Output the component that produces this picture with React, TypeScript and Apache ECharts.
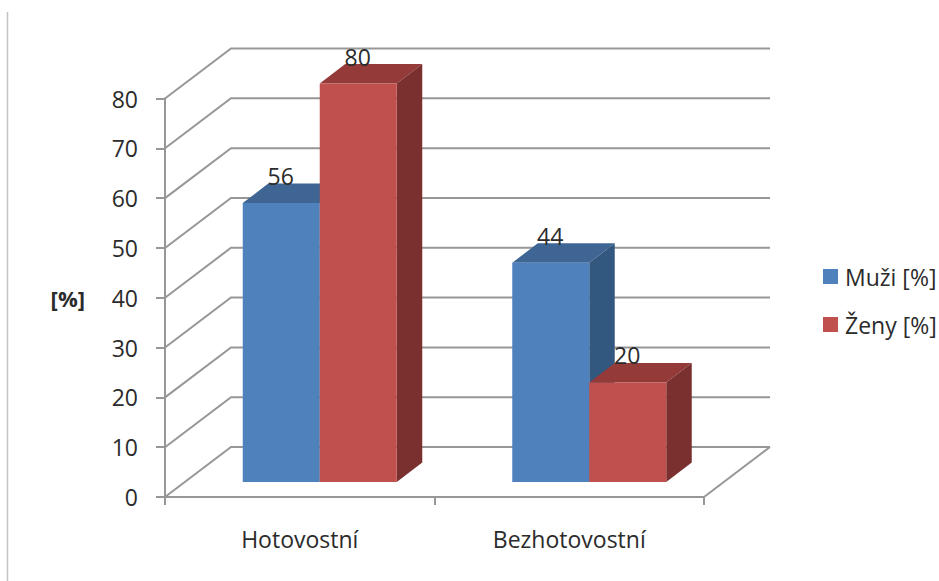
import React, { useEffect, useRef } from "react";
import * as echarts from "echarts";

const categories = ["Hotovostní", "Bezhotovostní"];
const muzi = [56, 44];
const zeny = [80, 20];
const gridValues = [0, 10, 20, 30, 40, 50, 60, 70, 80];

const FONT = "'Open Sans', sans-serif";
const TEXT = "#2b2b2b";
const GRID = "#979797";
const WALL_DX = 66;
const WALL_DY = -50;
const BAR_WIDTH_RATIO = 77 / 269.5;
const BAR_SHIFT_X = 20;
const BAR_SHIFT_Y = -15;
const BAR_DEPTH_X = 25.5;
const BAR_DEPTH_Y = -19.5;

function barSeries(name: string, values: number[], slot: number, front: string, top: string, side: string) {
  return {
    name,
    type: "custom",
    coordinateSystem: "cartesian2d",
    clip: false,
    z: 5 + slot,
    itemStyle: { color: front },
    encode: { x: 0, y: 1 },
    data: values.map((v, i) => [i, v]),
    renderItem: (_p: any, api: any) => {
      const i = api.value(0);
      const v = api.value(1);
      const band = api.size([1, 0])[0];
      const w = band * BAR_WIDTH_RATIO;
      const c = api.coord([i, v]);
      const b = api.coord([i, 0]);
      const x0 = c[0] - w + slot * w + BAR_SHIFT_X;
      const x1 = x0 + w;
      const yT = c[1] + BAR_SHIFT_Y;
      const yB = b[1] + BAR_SHIFT_Y;
      const dx = BAR_DEPTH_X;
      const dy = BAR_DEPTH_Y;
      return {
        type: "group",
        children: [
          { type: "polygon", shape: { points: [[x0, yT], [x1, yT], [x1 + dx, yT + dy], [x0 + dx, yT + dy]] }, style: { fill: top } },
          { type: "polygon", shape: { points: [[x1, yT], [x1 + dx, yT + dy], [x1 + dx, yB + dy], [x1, yB]] }, style: { fill: side } },
          { type: "rect", shape: { x: x0, y: yT, width: w, height: yB - yT }, style: { fill: front } },
        ],
      };
    },
  };
}

function labelSeries(values: number[], slot: number) {
  return {
    type: "custom",
    coordinateSystem: "cartesian2d",
    clip: false,
    silent: true,
    z: 20,
    encode: { x: 0, y: 1 },
    data: values.map((v, i) => [i, v]),
    renderItem: (_p: any, api: any) => {
      const i = api.value(0);
      const v = api.value(1);
      const band = api.size([1, 0])[0];
      const w = band * BAR_WIDTH_RATIO;
      const c = api.coord([i, v]);
      return {
        type: "text",
        x: c[0] - w + slot * w + BAR_SHIFT_X + w / 2 - 0.5,
        y: c[1] + BAR_SHIFT_Y - 27,
        style: { text: String(v), fill: TEXT, font: `23px ${FONT}`, textAlign: "center", textVerticalAlign: "middle" },
      };
    },
  };
}

export default function App() {
  const ref = useRef<HTMLDivElement>(null);
  useEffect(() => {
    const chart = echarts.init(ref.current!, undefined, { renderer: "svg" });
    chart.setOption({
      animation: false,
      backgroundColor: "#ffffff",
      textStyle: { fontFamily: FONT },
      grid: { left: 165, top: 98.5, width: 539, height: 398.5, containLabel: false },
      legend: {
        data: ["Muži [%]", "Ženy [%]"],
        orient: "vertical",
        left: 823,
        top: 265,
        itemWidth: 15,
        itemHeight: 15,
        itemGap: 25,
        icon: "rect",
        textStyle: { color: TEXT, fontSize: 23, fontFamily: FONT, padding: [0, 0, 0, 2] },
        padding: 0,
      },
      xAxis: {
        type: "category",
        data: categories,
        axisLine: { lineStyle: { color: GRID, width: 2 } },
        axisTick: { show: true, length: 8, lineStyle: { color: GRID, width: 2 } },
        axisLabel: { color: TEXT, fontSize: 23, margin: 30, fontFamily: FONT },
        splitLine: { show: false },
      },
      yAxis: {
        type: "value",
        min: 0,
        max: 80,
        interval: 10,
        name: "[%]",
        nameLocation: "middle",
        nameRotate: 0,
        nameGap: 80,
        nameTextStyle: { color: TEXT, fontSize: 22, fontWeight: "bold", fontFamily: FONT },
        axisLine: { show: true, lineStyle: { color: GRID, width: 2 } },
        axisTick: { show: true, length: 9, lineStyle: { color: GRID, width: 2 } },
        axisLabel: { color: TEXT, fontSize: 23, margin: 27, fontFamily: FONT },
        splitLine: { show: false },
      },
      series: [
        {
          type: "custom",
          coordinateSystem: "cartesian2d",
          clip: false,
          silent: true,
          z: 1,
          encode: { y: 0 },
          data: gridValues.map((v) => [v]),
          renderItem: (_p: any, api: any) => {
            const v = api.value(0);
            const left = api.coord([0, v]);
            const band = api.size([1, 0])[0];
            const x0 = left[0] - band / 2;
            const x1 = left[0] + band * 1.5;
            const y = left[1];
            const line = { stroke: GRID, lineWidth: 2, fill: "none" };
            const children: any[] = [
              { type: "polyline", shape: { points: [[x0, y], [x0 + WALL_DX, y + WALL_DY], [x1 + WALL_DX, y + WALL_DY]] }, style: line },
            ];
            if (v === 0) {
              children.push({ type: "line", shape: { x1: x1, y1: y, x2: x1 + WALL_DX, y2: y + WALL_DY }, style: line });
            }
            return { type: "group", children };
          },
        },
        barSeries("Muži [%]", muzi, 0, "#4F81BD", "#3F6594", "#335880"),
        barSeries("Ženy [%]", zeny, 1, "#C0504D", "#943B39", "#7A302E"),
        labelSeries(muzi, 0),
        labelSeries(zeny, 1),
      ],
      graphic: [
        { type: "line", shape: { x1: 7.5, y1: 12, x2: 7.5, y2: 581 }, style: { stroke: "#c4c4c4", lineWidth: 1.5 } },
      ],
    });
    return () => chart.dispose();
  }, []);
  return <div ref={ref} style={{ position: "fixed", left: 0, top: 0, width: 939, height: 581 }} />;
}
